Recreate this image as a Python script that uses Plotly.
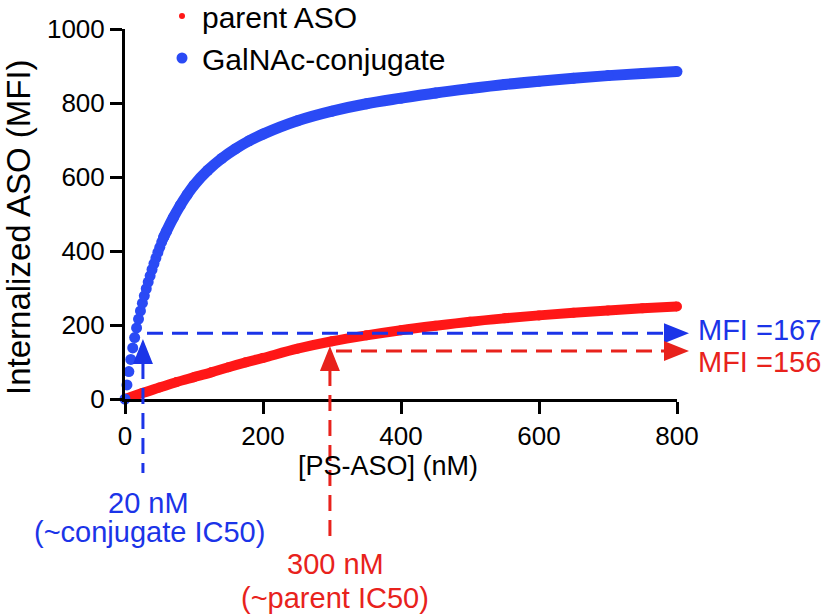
import plotly.graph_objects as go

# ---------------- data ----------------
# GalNAc-conjugate: closely spaced points at low concentration
blue_x_low = [0, 2.8, 5.6, 8.4, 11.2, 14.0, 16.8, 19.6, 22.4, 25.2, 28.0,
              30.8, 33.6, 36.4, 39.2, 42.0, 44.8, 47.6, 50.4, 53.2, 56.0]
blue_y_low = [0, 38, 74, 107, 138, 166, 192, 216, 238, 259, 279,
              298, 316, 333, 350, 366, 381, 396, 410, 424, 437]
# GalNAc-conjugate: rest of the curve
blue_x_high = [56, 60, 70, 80, 90, 100, 120, 140, 160, 180, 200, 250, 300,
               350, 400, 450, 500, 550, 600, 650, 700, 750, 800]
blue_y_high = [437, 453, 490, 523, 552, 578, 618, 650, 676, 698, 716, 752, 778,
               798, 813, 827, 839, 850, 859, 867, 874, 880, 885]
# parent ASO
red_x = [0, 25, 50, 75, 100, 125, 150, 175, 200, 250, 300, 350, 400, 450,
         500, 550, 600, 650, 700, 750, 800]
red_y = [0, 16, 31, 46, 59, 72, 86, 99, 111, 136, 156, 172, 186, 198,
         209, 218, 226, 233, 239, 245, 250]

x_ticks = [0, 200, 400, 600, 800]
y_ticks = [0, 200, 400, 600, 800, 1000]

series_names = ["parent ASO", "GalNAc-conjugate"]

# annotation values
conj_ic50_label = ["20 nM", "(~conjugate IC50)"]
par_ic50_label = ["300 nM", "(~parent IC50)"]
mfi_labels = ["MFI =167", "MFI =156"]

# ---------------- styling / layout ----------------
W, H = 829, 616
L, T = 125, 29
PW, PH = 552, 370
R, B = W - L - PW, H - T - PH
XR = [0, 800]
YR = [0, 1000]

BLUE = "#2a4af5"
BLUE_T = "#1b34e8"
RED = "#ff1717"
RED_T = "#e8221c"
FONT = "Liberation Sans, Arial, Helvetica, sans-serif"


def xp(px):
    return (px - L) / PW


def yp(py):
    return (T + PH - py) / PH


def dx(x):  # data x -> paper
    return (x - XR[0]) / (XR[1] - XR[0])


def dy(y):  # data y -> paper
    return (y - YR[0]) / (YR[1] - YR[0])


fig = go.Figure()

# parent ASO curve
fig.add_trace(go.Scatter(
    x=red_x, y=red_y, mode="lines+markers", line=dict(color=RED, width=10, shape="spline"),
    marker=dict(color=RED, size=10), showlegend=False, cliponaxis=False, hoverinfo="skip"))

# GalNAc curve (continuous part)
fig.add_trace(go.Scatter(
    x=blue_x_high, y=blue_y_high, mode="lines+markers",
    line=dict(color=BLUE, width=11, shape="spline"),
    marker=dict(color=BLUE, size=11), showlegend=False, cliponaxis=False, hoverinfo="skip"))
# GalNAc low-concentration points
fig.add_trace(go.Scatter(
    x=blue_x_low, y=blue_y_low, mode="markers",
    marker=dict(color=BLUE, size=11), showlegend=False, cliponaxis=False, hoverinfo="skip"))

# legend entries
fig.add_trace(go.Scatter(x=[None], y=[None], mode="markers", name=series_names[0],
                         marker=dict(color=RED, size=6)))
fig.add_trace(go.Scatter(x=[None], y=[None], mode="markers", name=series_names[1],
                         marker=dict(color=BLUE, size=11)))

# ---------------- guide arrows (dashed lines + triangle heads) ----------------
DASH = "16px,9px"
shapes = []


def vline(x_data, py_top, py_bot, color):
    shapes.append(dict(type="line", xref="paper", yref="paper",
                       x0=dx(x_data), x1=dx(x_data), y0=yp(py_top), y1=yp(py_bot),
                       line=dict(color=color, width=3, dash=DASH)))


def hline(y_data, px_left, px_right, color):
    shapes.append(dict(type="line", xref="paper", yref="paper",
                       x0=xp(px_left), x1=xp(px_right), y0=dy(y_data), y1=dy(y_data),
                       line=dict(color=color, width=3, dash=DASH)))


def tri_up(x_data, py_tip, color, w=20, h=25):
    cx = L + dx(x_data) * PW
    p = "M {:.5f},{:.5f} L {:.5f},{:.5f} L {:.5f},{:.5f} Z".format(
        xp(cx), yp(py_tip), xp(cx - w / 2), yp(py_tip + h), xp(cx + w / 2), yp(py_tip + h))
    shapes.append(dict(type="path", xref="paper", yref="paper", path=p,
                       fillcolor=color, line=dict(color=color, width=0)))


def tri_right(y_data, px_tip, color, w=20, h=25):
    cy = T + PH - dy(y_data) * PH
    p = "M {:.5f},{:.5f} L {:.5f},{:.5f} L {:.5f},{:.5f} Z".format(
        xp(px_tip), yp(cy), xp(px_tip - h), yp(cy - w / 2), xp(px_tip - h), yp(cy + w / 2))
    shapes.append(dict(type="path", xref="paper", yref="paper", path=p,
                       fillcolor=color, line=dict(color=color, width=0)))


# positions of the guides (data units)
CONJ_X, CONJ_Y = 26, 178
PAR_X, PAR_Y = 297, 130

# blue guide
vline(CONJ_X, 363, 473, BLUE_T)
tri_up(CONJ_X, 339, BLUE_T)
hline(CONJ_Y, 147, 668, BLUE_T)
tri_right(CONJ_Y, 689, BLUE_T)
# red guide
vline(PAR_X, 370, 538, RED_T)
tri_up(PAR_X, 346, RED_T)
hline(PAR_Y, 336, 668, RED_T)
tri_right(PAR_Y, 689, RED_T)

# ---------------- text annotations ----------------
ann = []


def text(s, px, py, color, size=29, xanchor="center", angle=0):
    ann.append(dict(text=s, x=xp(px), y=yp(py), xref="paper", yref="paper",
                    showarrow=False, xanchor=xanchor, yanchor="middle", textangle=angle,
                    font=dict(family=FONT, size=size, color=color)))


text(conj_ic50_label[0], 148, 503, BLUE_T)
text(conj_ic50_label[1], 149, 532, BLUE_T)
text(par_ic50_label[0], 335, 564, RED_T)
text(par_ic50_label[1], 335, 598, RED_T)
text(mfi_labels[0], 696, 330, BLUE_T, xanchor="left")
text(mfi_labels[1], 696, 362, RED_T, xanchor="left")
# axis titles
text("Internalized ASO (MFI)", 18, 227, "black", size=33, angle=-90)
text("[PS-ASO] (nM)", 388, 466, "black", size=27)

axis_common = dict(showgrid=False, zeroline=False, showline=True, linecolor="black",
                   linewidth=3, ticks="outside", ticklen=12, tickwidth=3, tickcolor="black",
                   tickfont=dict(family=FONT, size=26, color="black"))

fig.update_layout(
    width=W, height=H,
    margin=dict(l=L, r=R, t=T, b=B, autoexpand=False),
    paper_bgcolor="white", plot_bgcolor="white",
    xaxis=dict(range=XR, tickvals=x_ticks, **axis_common),
    yaxis=dict(range=YR, tickvals=y_ticks, **axis_common),
    shapes=shapes, annotations=ann,
    showlegend=True,
    legend=dict(x=xp(162), y=yp(-10), xanchor="left", yanchor="top",
                font=dict(family=FONT, size=30, color="black"),
                bgcolor="rgba(0,0,0,0)", itemsizing="trace", tracegroupgap=0),
    font=dict(family=FONT),
)

fig.write_html("out.html", config={"displayModeBar": False},
               post_script="document.body.style.margin='0px';")
